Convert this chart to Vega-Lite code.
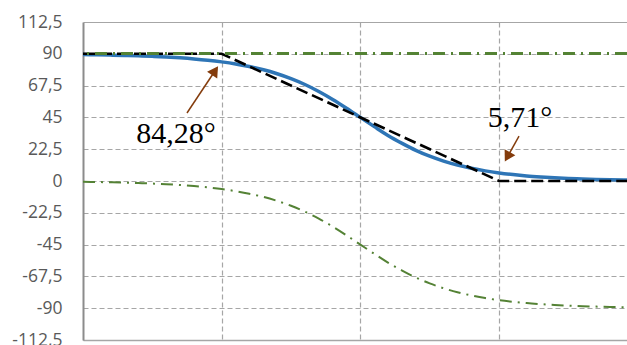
{
  "$schema": "https://vega.github.io/schema/vega-lite/v6.json",
  "width": 544,
  "height": 318,
  "autosize": {"type": "none"},
  "padding": {"left": 83, "top": 22, "right": 0, "bottom": 5},
  "background": "white",
  "config": {
    "view": {"stroke": null},
    "axisX": {
      "labels": false, "ticks": false, "title": null,
      "grid": true, "gridColor": "#a6a6a6", "gridDash": [5, 3], "gridWidth": 1.2,
      "domain": true, "domainColor": "#a6a6a6", "domainWidth": 1.5
    },
    "axisY": {
      "title": null, "ticks": false, "labelPadding": 21, "labelFontSize": 17.5,
      "labelFont": "Open Sans", "labelColor": "#595959",
      "labelOverlap": false, "labelBound": false, "labelFlush": false,
      "grid": true, "gridColor": "#a6a6a6", "gridWidth": 1.2,
      "domain": true, "domainColor": "#8c8c8c", "domainWidth": 2
    }
  },
  "datasets": {
    "phase": [
      {"w": 0.01, "total": 89.43, "pole": -0.57},
      {"w": 0.0126, "total": 89.28, "pole": -0.72},
      {"w": 0.0158, "total": 89.09, "pole": -0.91},
      {"w": 0.02, "total": 88.86, "pole": -1.14},
      {"w": 0.0251, "total": 88.56, "pole": -1.44},
      {"w": 0.0316, "total": 88.19, "pole": -1.81},
      {"w": 0.0398, "total": 87.72, "pole": -2.28},
      {"w": 0.0501, "total": 87.13, "pole": -2.87},
      {"w": 0.0631, "total": 86.39, "pole": -3.61},
      {"w": 0.0794, "total": 85.46, "pole": -4.54},
      {"w": 0.1, "total": 84.28, "pole": -5.71},
      {"w": 0.126, "total": 82.82, "pole": -7.18},
      {"w": 0.158, "total": 80.99, "pole": -9.01},
      {"w": 0.2, "total": 78.72, "pole": -11.28},
      {"w": 0.251, "total": 75.9, "pole": -14.1},
      {"w": 0.316, "total": 72.45, "pole": -17.55},
      {"w": 0.398, "total": 68.3, "pole": -21.7},
      {"w": 0.501, "total": 63.38, "pole": -26.62},
      {"w": 0.631, "total": 57.75, "pole": -32.25},
      {"w": 0.794, "total": 51.54, "pole": -38.46},
      {"w": 1, "total": 45, "pole": -45},
      {"w": 1.26, "total": 38.46, "pole": -51.54},
      {"w": 1.58, "total": 32.25, "pole": -57.75},
      {"w": 2, "total": 26.62, "pole": -63.38},
      {"w": 2.51, "total": 21.7, "pole": -68.3},
      {"w": 3.16, "total": 17.55, "pole": -72.45},
      {"w": 3.98, "total": 14.1, "pole": -75.9},
      {"w": 5.01, "total": 11.28, "pole": -78.72},
      {"w": 6.31, "total": 9.01, "pole": -80.99},
      {"w": 7.94, "total": 7.18, "pole": -82.82},
      {"w": 10, "total": 5.71, "pole": -84.29},
      {"w": 12.6, "total": 4.54, "pole": -85.46},
      {"w": 15.8, "total": 3.61, "pole": -86.39},
      {"w": 20, "total": 2.87, "pole": -87.13},
      {"w": 25.1, "total": 2.28, "pole": -87.72},
      {"w": 31.6, "total": 1.81, "pole": -88.19},
      {"w": 39.8, "total": 1.44, "pole": -88.56},
      {"w": 50.1, "total": 1.14, "pole": -88.86},
      {"w": 63.1, "total": 0.91, "pole": -89.09},
      {"w": 79.4, "total": 0.72, "pole": -89.28},
      {"w": 100, "total": 0.57, "pole": -89.43}
    ],
    "asymptote": [
      {"w": 0.01, "deg": 90},
      {"w": 0.1, "deg": 90},
      {"w": 10, "deg": 0},
      {"w": 100, "deg": 0}
    ],
    "notes": [
      {"label": "84,28°", "tx": 0.0468, "ty": 33.3, "x0": 0.0562, "y0": 48.1, "x1": 0.0896, "y1": 78.0},
      {"label": "5,71°", "tx": 14.15, "ty": 44.6, "x0": 13.92, "y0": 31.8, "x1": 11.48, "y1": 17.1}
    ]
  },
  "layer": [
    {
      "data": {"name": "phase"},
      "mark": {"type": "line", "color": "#2E75B6", "strokeWidth": 3.5, "interpolate": "monotone", "clip": true},
      "encoding": {
        "x": {
          "field": "w", "type": "quantitative",
          "scale": {"type": "log", "domain": [0.01, 83.6], "nice": false},
          "axis": {"values": [0.1, 1, 10], "tickCount": 20}
        },
        "y": {
          "field": "total", "type": "quantitative",
          "scale": {"domain": [-112.5, 112.5], "nice": false, "zero": false},
          "axis": {
            "values": [-112.5, -90, -67.5, -45, -22.5, 0, 22.5, 45, 67.5, 90, 112.5],
            "tickCount": 20,
            "labelOverlap": false,
            "labelExpr": "replace(toString(datum.value), '.', ',')",
            "gridDash": {"condition": {"test": "abs(datum.value) > 112", "value": []}, "value": [5, 3]}
          }
        }
      }
    },
    {
      "data": {"name": "asymptote"},
      "mark": {"type": "line", "color": "black", "strokeWidth": 2.6, "strokeDash": [12, 5], "clip": true},
      "encoding": {
        "x": {"field": "w", "type": "quantitative"},
        "y": {"field": "deg", "type": "quantitative"}
      }
    },
    {
      "data": {"name": "phase"},
      "mark": {"type": "line", "color": "#548235", "strokeWidth": 2, "strokeDash": [12, 6, 2, 6], "interpolate": "monotone", "clip": true},
      "encoding": {
        "x": {"field": "w", "type": "quantitative"},
        "y": {"field": "pole", "type": "quantitative"}
      }
    },
    {
      "data": {"name": "phase"},
      "mark": {"type": "rule", "color": "#548235", "strokeWidth": 2, "strokeDash": [12, 6, 2, 6]},
      "encoding": {"y": {"datum": 90}}
    },
    {
      "data": {"name": "notes"},
      "mark": {"type": "rule", "color": "#843C0C", "strokeWidth": 1.5},
      "encoding": {
        "x": {"field": "x0", "type": "quantitative"},
        "y": {"field": "y0", "type": "quantitative"},
        "x2": {"field": "x1"},
        "y2": {"field": "y1"}
      }
    },
    {
      "data": {"name": "notes"},
      "transform": [{"filter": "datum.label == '84,28°'"}],
      "mark": {"type": "point", "shape": "triangle-up", "filled": true, "color": "#843C0C", "opacity": 1, "size": 150, "angle": 34},
      "encoding": {
        "x": {"field": "x1", "type": "quantitative"},
        "y": {"field": "y1", "type": "quantitative"}
      }
    },
    {
      "data": {"name": "notes"},
      "transform": [{"filter": "datum.label == '5,71°'"}],
      "mark": {"type": "point", "shape": "triangle-up", "filled": true, "color": "#843C0C", "opacity": 1, "size": 150, "angle": 209},
      "encoding": {
        "x": {"field": "x1", "type": "quantitative"},
        "y": {"field": "y1", "type": "quantitative"}
      }
    },
    {
      "data": {"name": "notes"},
      "mark": {"type": "text", "font": "Liberation Serif", "fontSize": 30, "color": "black", "align": "center", "baseline": "middle"},
      "encoding": {
        "x": {"field": "tx", "type": "quantitative"},
        "y": {"field": "ty", "type": "quantitative"},
        "text": {"field": "label"}
      }
    }
  ]
}
